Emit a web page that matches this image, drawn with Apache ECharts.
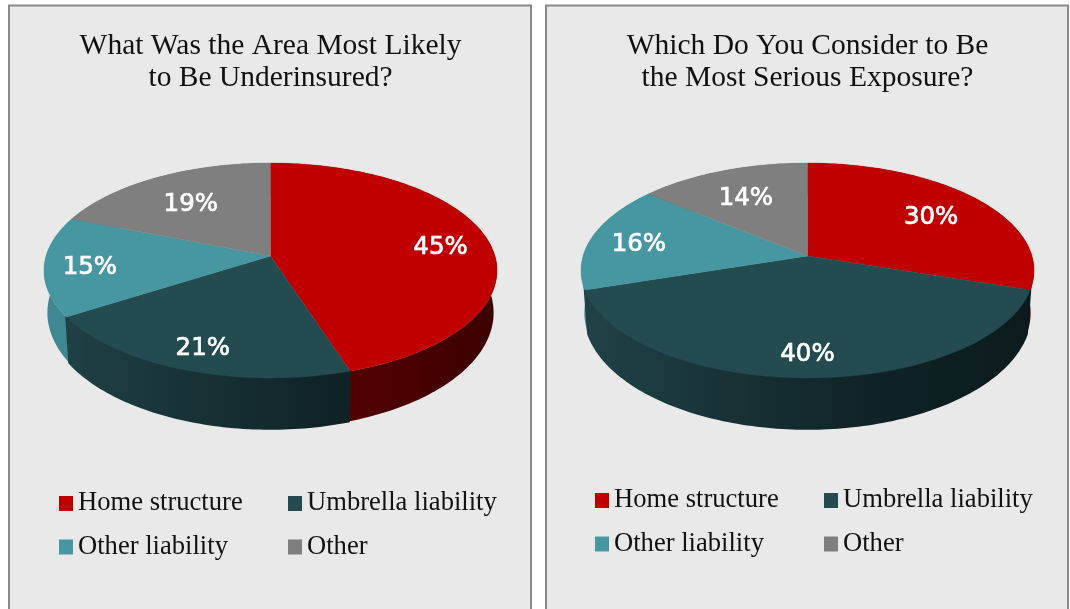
<!DOCTYPE html>
<html><head><meta charset="utf-8">
<style>html,body{margin:0;padding:0;background:#fff}#c{width:1070px;height:609px}</style>
<script src="https://cdn.jsdelivr.net/npm/echarts@6/dist/echarts.min.js"></script>
</head><body><div id="c"></div>
<script>
const categories = ['Home structure','Umbrella liability','Other liability','Other'];
const leftValues = [45,21,15,19];
const rightValues = [30,40,16,14];
const leftTitle = 'What Was the Area Most Likely\nto Be Underinsured?';
const rightTitle = 'Which Do You Consider to Be\nthe Most Serious Exposure?';

const topColors = ['#C00000','#234B50','#4797A3','#7F7F7F'];
const rimStops = [
  [[0,'#5c0000'],[.67,'#520000'],[1,'#3c0000']],
  [[0,'#204247'],[.65,'#0f2225'],[1,'#0b1a1d']],
  [[0,'#3f8892'],[1,'#3a7d86']],
  [[0,'#666666'],[1,'#555555']]
];
const panels = [
  {values:leftValues,title:leftTitle,cx:270.5,panelX:9,labelR:[.78,.8,.8,.68],legendX:[59,288],legendY:490},
  {values:rightValues,title:rightTitle,cx:807.5,panelX:546,labelR:[.72,.8,.78,.7],legendX:[595,824],legendY:487}
];
const K=.135, TILT=.47, XR=1.0092, YMIN=-.4144, YMAX=.7754, GRID_W=453, GRID_TOP=163, GRID_H=267;

function proj(u,v){const w=1-K*v;return [u/w,TILT*v/w];}
function bottom(p){return [p[0]*.985,p[1]*1.08+.183];}
function arc(a0,a1){const n=Math.max(2,Math.ceil((a1-a0)/.02)),r=[];
  for(let i=0;i<=n;i++){const a=a0+(a1-a0)*i/n;r.push(proj(Math.sin(a),-Math.cos(a)));}return r;}

function makeRender(vals,idx,labelR){
  let s=0;for(let i=0;i<idx;i++)s+=vals[i];
  const a0=s/100*2*Math.PI,a1=(s+vals[idx])/100*2*Math.PI;
  return function(params,api){
    const c=p=>api.coord(p);
    const edge=arc(a0,a1);
    const topPts=[c(proj(0,0))].concat(edge.map(c));
    const rimPts=edge.map(c).concat(edge.slice().reverse().map(p=>c(bottom(p))));
    const x0=c([-XR,0])[0],x1=c([XR,0])[0];
    const mid=(a0+a1)/2,r=labelR[idx];
    const lp=c(proj(r*Math.sin(mid),-r*Math.cos(mid)));
    const rimFill={type:'linear',x:x0,y:0,x2:x1,y2:0,global:true,
      colorStops:rimStops[idx].map(t=>({offset:t[0],color:t[1]}))};
    return {type:'group',children:[
      {type:'polygon',z2:idx===1?2:1,shape:{points:rimPts},style:idx===1?{fill:rimFill,stroke:rimFill,lineWidth:2}:{fill:rimFill}},
      {type:'polygon',z2:10,shape:{points:topPts},style:{fill:topColors[idx],stroke:topColors[idx],lineWidth:.4}},
      {type:'text',z2:20,x:lp[0],y:lp[1]+4,style:{text:api.value(2)+'%',align:'center',verticalAlign:'middle',
        fill:'#fff',stroke:'#fff',lineWidth:.7,font:'normal 24.5px "DejaVu Sans"'}}
    ]};
  };
}

const grid=[],xAxis=[],yAxis=[],series=[],legend=[],title=[];
panels.forEach((p,pi)=>{
  grid.push({left:p.cx-GRID_W/2,top:GRID_TOP,width:GRID_W,height:GRID_H,show:false});
  xAxis.push({gridIndex:pi,type:'value',min:-XR,max:XR,show:false});
  yAxis.push({gridIndex:pi,type:'value',min:YMIN,max:YMAX,inverse:true,show:false});
  categories.forEach((name,i)=>{
    series.push({type:'custom',name,xAxisIndex:pi,yAxisIndex:pi,clip:false,silent:true,
      itemStyle:{color:topColors[i]},encode:{x:0,y:1},
      data:[[0,0,p.values[i]]],renderItem:makeRender(p.values,i,p.labelR)});
  });
  title.push({text:p.title,left:p.cx,top:30,padding:0,textAlign:'center',
    textStyle:{fontFamily:'Liberation Serif',fontSize:29.5,fontWeight:'normal',color:'#111',lineHeight:32}});
  [[0,2],[1,3]].forEach((pair,col)=>{
    legend.push({orient:'vertical',left:p.legendX[col],top:p.legendY,itemWidth:14,itemHeight:15,itemGap:16.5,padding:0,
      icon:'rect',selectedMode:false,data:pair.map(j=>categories[j]),
      textStyle:{fontFamily:'Liberation Serif',fontSize:26.6,color:'#111',padding:[0,0,0,0]}});
  });
});
const panelGraphics=panels.map(p=>({type:'rect',z:-1,silent:true,
  shape:{x:p.panelX,y:5.5,width:522,height:640},style:{fill:'#E9E9E9',stroke:'#8A8A8A',lineWidth:2}}));

const chart=echarts.init(document.getElementById('c'),null,{renderer:'canvas'});
chart.setOption({animation:false,backgroundColor:'#fff',grid,xAxis,yAxis,series,legend,title,
  graphic:{elements:panelGraphics}});
</script></body></html>
